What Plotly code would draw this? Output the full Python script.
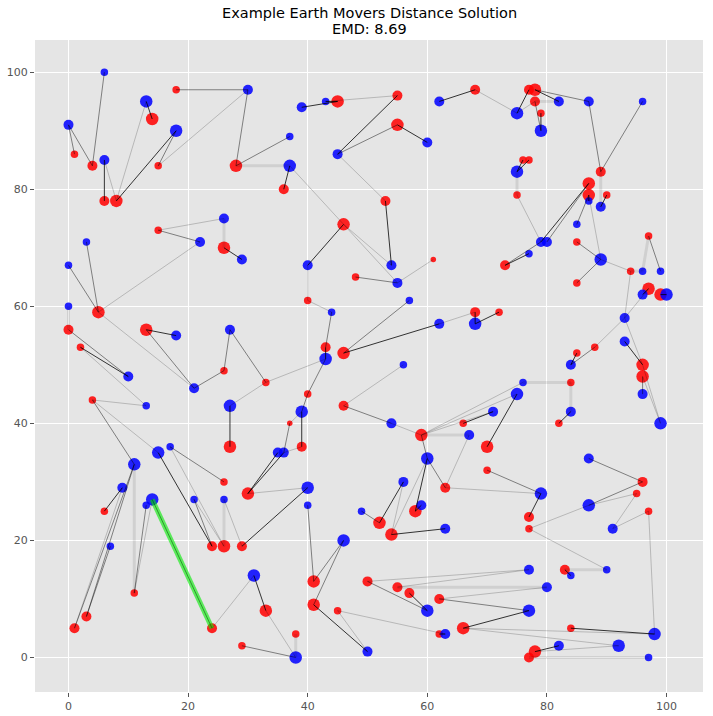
import plotly.graph_objects as go

# ---- data: supply (blue) points: x, y, weight class ----
blue_x = [0, 6, 6, 13, 18, 30, 37, 37, 39, 43, 45, 60, 62, 75, 79, 82, 87, 96, 75, 26,
          22, 29, 3, 0, 0, 40, 54, 55, 57, 44, 62, 68, 77, 79, 80, 85, 87, 89, 89, 96,
          99, 96, 100, 93, 93, 84, 96, 99, 84, 76, 75, 71, 67, 54, 56, 60, 43, 39, 27, 27,
          18, 21, 10, 13, 35, 36, 17, 15, 11, 9, 14, 13, 7, 21, 26, 40, 40, 46, 49, 56,
          59, 63, 79, 87, 87, 91, 31, 38, 50, 60, 63, 77, 80, 77, 84, 90, 98, 92, 82, 97]
blue_y = [91, 100, 85, 95, 90, 97, 89, 84, 94, 95, 86, 88, 95, 93, 90, 95, 95, 95, 83, 75,
          71, 68, 71, 67, 60, 67, 67, 64, 61, 59, 57, 57, 69, 71, 71, 74, 78, 77, 68, 66,
          66, 62, 62, 58, 54, 50, 45, 40, 42, 47, 45, 42, 38, 40, 50, 34, 51, 42, 43, 56,
          55, 46, 48, 43, 35, 35, 36, 35, 33, 29, 27, 26, 19, 27, 27, 29, 26, 20, 25, 30,
          26, 22, 28, 34, 26, 22, 14, 0, 1, 8, 4, 15, 12, 8, 14, 15, 4, 2, 2, 0]
blue_w = [3, 2, 3, 4, 4, 3, 2, 4, 3, 2, 3, 3, 3, 4, 4, 3, 3, 2, 4, 3,
          3, 3, 2, 2, 2, 3, 3, 3, 2, 2, 3, 4, 2, 3, 3, 2, 2, 3, 4, 2,
          2, 3, 4, 3, 3, 3, 3, 4, 3, 2, 4, 3, 3, 3, 2, 4, 4, 4, 4, 3,
          3, 3, 3, 2, 3, 3, 2, 4, 4, 3, 4, 2, 2, 2, 2, 4, 2, 4, 2, 3,
          3, 3, 4, 3, 4, 3, 4, 4, 3, 4, 3, 3, 3, 4, 2, 2, 4, 4, 3, 2]

# ---- data: demand (red) points ----
red_x = [1, 4, 6, 8, 14, 18, 15, 28, 36, 45, 55, 55, 53, 68, 77, 78, 78, 79, 76, 77,
         75, 87, 87, 89, 90, 15, 26, 46, 48, 61, 73, 85, 85, 97, 94, 97, 99, 5, 0, 2,
         13, 40, 43, 46, 68, 72, 85, 88, 96, 96, 84, 82, 26, 33, 4, 46, 40, 37, 27, 39,
         59, 66, 70, 63, 70, 77, 77, 95, 96, 97, 6, 11, 1, 3, 24, 26, 24, 26, 29, 30,
         33, 29, 38, 41, 41, 45, 52, 54, 58, 50, 55, 57, 62, 62, 66, 83, 84, 78, 77]
red_y = [86, 84, 78, 78, 92, 97, 84, 84, 80, 95, 96, 91, 78, 97, 97, 97, 95, 93, 85, 85,
         79, 81, 79, 83, 79, 73, 70, 74, 65, 68, 67, 71, 64, 72, 66, 63, 62, 59, 56, 53,
         56, 61, 53, 52, 59, 59, 52, 53, 50, 48, 47, 40, 49, 47, 44, 43, 45, 40, 36, 36,
         38, 40, 36, 29, 32, 24, 22, 28, 30, 25, 25, 11, 5, 7, 5, 30, 19, 19, 19, 28,
         8, 2, 4, 13, 9, 8, 23, 21, 25, 13, 12, 11, 10, 4, 5, 15, 5, 1, 0]
red_w = [2, 3, 3, 4, 4, 2, 2, 4, 3, 4, 3, 4, 3, 3, 3, 4, 3, 2, 2, 2,
         2, 4, 4, 3, 2, 2, 4, 4, 2, 1, 3, 2, 2, 2, 2, 4, 4, 4, 3, 2,
         4, 2, 3, 4, 3, 2, 2, 2, 4, 4, 2, 2, 2, 2, 2, 3, 2, 1, 4, 3,
         4, 2, 4, 3, 2, 3, 2, 2, 3, 2, 2, 2, 3, 3, 3, 2, 3, 4, 3, 4,
         4, 2, 2, 4, 4, 2, 4, 4, 4, 3, 3, 3, 3, 2, 4, 3, 2, 4, 3]

# ---- flows: (blue index, red index, strength) D dark, M medium, L light, W wide faint ----
flows = [
    (0, 0, 'M'), (0, 1, 'M'), (1, 1, 'M'), (2, 2, 'D'), (2, 3, 'L'),
    (3, 4, 'D'), (3, 3, 'L'), (4, 3, 'D'), (4, 6, 'M'),
    (5, 5, 'M'), (5, 6, 'L'), (5, 7, 'M'), (6, 7, 'M'),
    (7, 7, 'W'), (7, 8, 'D'), (7, 27, 'L'), (8, 9, 'D'),
    (9, 9, 'D'), (9, 10, 'L'), (10, 10, 'D'), (10, 11, 'M'), (10, 12, 'L'),
    (11, 11, 'D'), (12, 13, 'D'), (13, 13, 'L'), (13, 14, 'D'), (13, 16, 'L'),
    (14, 17, 'D'), (14, 16, 'M'), (15, 15, 'D'), (15, 16, 'W'),
    (16, 15, 'M'), (16, 23, 'M'), (17, 23, 'M'),
    (18, 18, 'D'), (18, 19, 'D'), (18, 20, 'W'),
    (19, 26, 'W'), (19, 25, 'L'), (20, 25, 'M'), (20, 37, 'L'), (21, 26, 'D'),
    (22, 37, 'M'), (23, 37, 'M'), (24, 38, 'W'),
    (25, 27, 'D'), (25, 41, 'L'), (26, 27, 'L'), (26, 12, 'D'),
    (27, 28, 'M'), (27, 29, 'L'), (27, 27, 'L'), (28, 43, 'M'),
    (29, 42, 'M'), (29, 41, 'L'), (30, 44, 'L'), (30, 43, 'D'),
    (31, 44, 'D'), (31, 45, 'D'), (32, 30, 'D'),
    (33, 21, 'D'), (33, 20, 'L'), (33, 30, 'M'), (34, 21, 'M'),
    (35, 22, 'M'), (36, 22, 'D'), (37, 23, 'W'), (37, 24, 'D'),
    (38, 31, 'M'), (38, 32, 'M'), (38, 34, 'L'), (38, 22, 'L'),
    (39, 34, 'W'), (39, 33, 'W'), (40, 33, 'M'), (41, 35, 'D'), (42, 36, 'D'),
    (43, 34, 'L'), (43, 47, 'L'), (43, 48, 'L'), (43, 35, 'L'), (44, 48, 'D'),
    (45, 46, 'D'), (45, 47, 'M'), (46, 49, 'M'), (47, 48, 'L'), (47, 49, 'L'),
    (48, 50, 'W'), (48, 51, 'D'), (49, 50, 'W'), (49, 60, 'L'),
    (50, 62, 'D'), (50, 60, 'L'), (51, 61, 'D'), (51, 60, 'L'),
    (52, 60, 'W'), (52, 63, 'L'), (53, 55, 'M'), (53, 60, 'L'), (54, 55, 'L'),
    (55, 88, 'D'), (55, 63, 'M'), (55, 87, 'L'), (55, 60, 'M'),
    (56, 42, 'D'), (56, 56, 'M'), (56, 53, 'L'),
    (57, 59, 'D'), (57, 56, 'M'), (57, 57, 'L'), (58, 58, 'D'), (58, 53, 'L'),
    (59, 52, 'M'), (59, 53, 'M'), (60, 40, 'D'),
    (61, 40, 'M'), (61, 52, 'M'), (61, 37, 'L'), (62, 38, 'M'), (62, 39, 'D'),
    (63, 39, 'L'), (63, 54, 'L'), (64, 79, 'D'), (65, 79, 'D'), (65, 59, 'L'), (65, 57, 'M'),
    (66, 75, 'M'), (66, 77, 'L'), (67, 54, 'L'), (67, 76, 'D'),
    (68, 54, 'M'), (68, 72, 'M'), (68, 73, 'M'), (68, 71, 'W'),
    (69, 70, 'D'), (69, 72, 'L'), (70, 71, 'L'), (71, 71, 'M'), (72, 73, 'M'),
    (73, 76, 'M'), (73, 77, 'L'), (74, 77, 'W'), (74, 78, 'L'),
    (75, 78, 'D'), (75, 79, 'L'), (76, 83, 'M'), (77, 83, 'M'), (77, 84, 'M'),
    (78, 86, 'M'), (79, 86, 'D'), (79, 87, 'L'), (80, 88, 'D'), (81, 87, 'D'),
    (82, 65, 'D'), (82, 63, 'L'), (82, 64, 'M'), (83, 68, 'M'),
    (84, 68, 'M'), (84, 67, 'L'), (84, 66, 'L'), (85, 67, 'L'), (85, 69, 'L'),
    (86, 80, 'D'), (86, 74, 'L'), (87, 80, 'L'), (87, 82, 'W'), (87, 81, 'M'),
    (88, 84, 'D'), (88, 85, 'L'), (89, 89, 'M'), (89, 91, 'D'),
    (90, 93, 'D'), (90, 85, 'L'), (91, 89, 'L'), (91, 90, 'L'),
    (92, 90, 'W'), (92, 92, 'L'), (93, 92, 'M'), (93, 94, 'D'), (94, 95, 'D'),
    (95, 95, 'W'), (95, 66, 'L'), (96, 69, 'L'), (96, 96, 'D'), (96, 94, 'L'),
    (97, 97, 'L'), (97, 94, 'L'), (98, 97, 'D'), (99, 98, 'W'),
]
highlight = (70, 74)   # highlighted (green) flow

title_lines = ["Example Earth Movers Distance Solution", "EMD: 8.69"]
ticks = [0, 20, 40, 60, 80, 100]

size_map = {1: 5.5, 2: 7.5, 3: 10, 4: 12.5}
styles = {
    'D': dict(color='rgba(0,0,0,0.78)', width=1),
    'M': dict(color='rgba(0,0,0,0.45)', width=1),
    'L': dict(color='rgba(0,0,0,0.2)', width=1),
    'W': dict(color='rgba(0,0,0,0.09)', width=3),
}

fig = go.Figure()
fig.add_trace(go.Scatter(x=red_x, y=red_y, mode='markers',
                         marker=dict(color='#ff0000', opacity=0.86,
                                     size=[size_map[w] for w in red_w], line=dict(width=0)),
                         hoverinfo='skip', showlegend=False))
fig.add_trace(go.Scatter(x=blue_x, y=blue_y, mode='markers',
                         marker=dict(color='#0000ff', opacity=0.86,
                                     size=[size_map[w] for w in blue_w], line=dict(width=0)),
                         hoverinfo='skip', showlegend=False))

for key in ['W', 'L', 'M', 'D']:
    xs, ys = [], []
    for b, r, s in flows:
        if s == key:
            xs += [blue_x[b], red_x[r], None]
            ys += [blue_y[b], red_y[r], None]
    fig.add_trace(go.Scatter(x=xs, y=ys, mode='lines', line=styles[key],
                             hoverinfo='skip', showlegend=False))

hb, hr = highlight
fig.add_trace(go.Scatter(x=[blue_x[hb], red_x[hr]], y=[blue_y[hb], red_y[hr]], mode='lines',
                         line=dict(color='rgba(0,235,0,0.6)', width=5),
                         hoverinfo='skip', showlegend=False))
fig.add_trace(go.Scatter(x=[blue_x[hb], red_x[hr]], y=[blue_y[hb], red_y[hr]], mode='lines',
                         line=dict(color='rgba(0,90,0,0.55)', width=1),
                         hoverinfo='skip', showlegend=False))

axis_common = dict(showgrid=True, gridcolor='white', gridwidth=1, zeroline=False,
                   showline=False, ticks='outside', ticklen=4, tickcolor='#555555',
                   automargin=False,
                   tickfont=dict(family='DejaVu Sans', size=11, color='#555555'),
                   tickvals=ticks, ticktext=[str(t) for t in ticks])

fig.update_layout(
    width=713, height=716,
    margin=dict(l=35, r=10, t=40, b=24),
    plot_bgcolor='#E5E5E5', paper_bgcolor='white',
    xaxis=dict(range=[-5.6, 106.1], **axis_common),
    yaxis=dict(range=[-5.9, 105.5], **axis_common),
    annotations=[
        dict(text=title_lines[0], x=0.5, y=1.0414, xref='paper', yref='paper',
             xanchor='center', yanchor='middle', showarrow=False,
             font=dict(family='DejaVu Sans', size=14.5, color='black')),
        dict(text=title_lines[1], x=0.5, y=1.0169, xref='paper', yref='paper',
             xanchor='center', yanchor='middle', showarrow=False,
             font=dict(family='DejaVu Sans', size=14.5, color='black')),
    ],
)

fig.write_html("out.html", config={'displayModeBar': False},
               post_script="document.body.style.margin='0px';document.body.style.overflow='hidden';")
